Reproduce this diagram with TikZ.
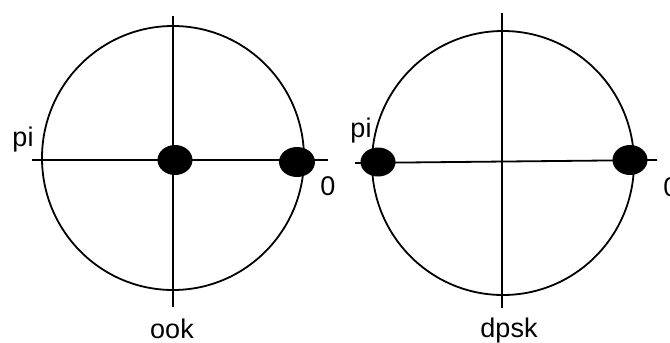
\documentclass[tikz,border=0pt]{standalone}
\usepackage{fontspec}
\setmainfont{Liberation Sans}
\begin{document}
\begin{tikzpicture}[x=1pt,y=-1pt,line width=1.8pt,
  lbl/.style={anchor=base,inner sep=0pt,font=\fontsize{27}{32}\selectfont}]
\useasboundingbox (0,0) rectangle (670,343);
% ook
\draw (173,158) ellipse (131 and 132);
\draw (173,16) -- (173,307);
\draw (32,160) -- (328,160);
\fill (175,160) ellipse (17.5 and 15);
\fill (297,162) ellipse (18 and 15);
\node[lbl] (piook) at (23,146) {pi};
\node[lbl] (zeroook) at (328,195) {0};
\node[lbl] (ook) at (172,338) {ook};
% dpsk
\draw (503,163) ellipse (131 and 132);
\draw (502,13) -- (502,308);
\draw (355,163) -- (657,160);
\fill (378,162) ellipse (17.5 and 14.5);
\fill (630,160) ellipse (17.5 and 15);
\node[lbl] (pidpsk) at (361,137) {pi};
\node[lbl] (zerodpsk) at (671,196) {0};
\node[lbl] (dpsk) at (509,337) {dpsk};
\end{tikzpicture}
\end{document}
